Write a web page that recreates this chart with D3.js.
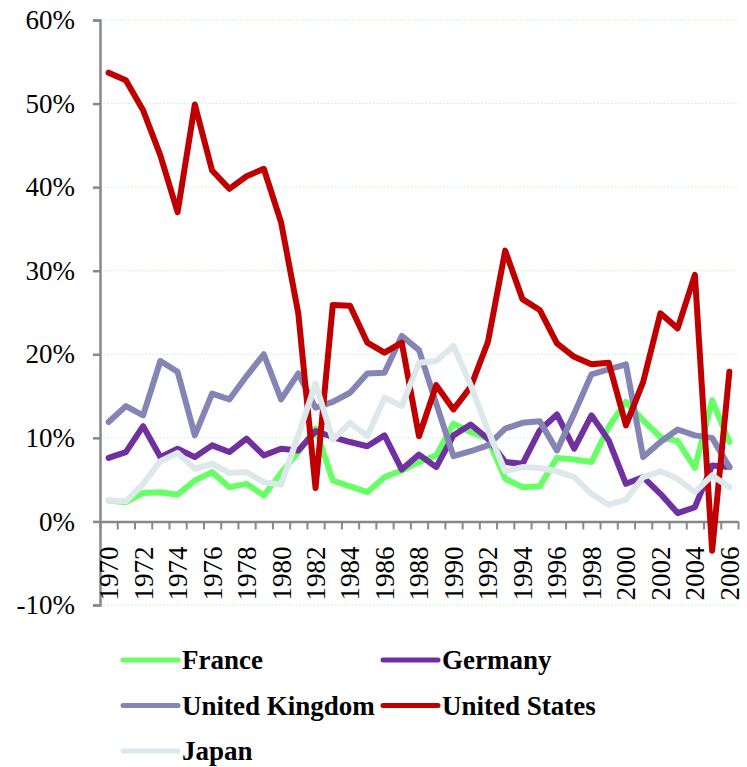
<!DOCTYPE html>
<html>
<head>
<meta charset="utf-8">
<script src="https://cdn.jsdelivr.net/npm/d3@7"></script>
<style>
  body { margin: 0; background: #fff; }
  svg { display: block; }
  svg text { font-family: "Liberation Serif", "DejaVu Serif", serif; }
</style>
</head>
<body>
<svg id="chart"></svg>
<script>
// data (percent)
var years = d3.range(1970, 2007)
var seriesNames = ["France", "Germany", "United Kingdom", "United States", "Japan"]
var france = [2.5, 2.3, 3.4, 3.5, 3.2, 4.9, 5.9, 4.1, 4.5, 3.1, 5.8, 8.3, 11.1, 4.9, 4.2, 3.5, 5.3, 6.1, 7.1, 7.9, 11.7, 10.7, 9.9, 5.1, 4.1, 4.2, 7.6, 7.4, 7.1, 11.3, 14.3, 12.1, 10.1, 9.6, 6.4, 14.5, 9.5]
var germany = [7.6, 8.3, 11.4, 7.7, 8.7, 7.7, 9.1, 8.3, 9.9, 7.9, 8.7, 8.5, 10.8, 10.1, 9.5, 9.0, 10.3, 6.2, 8.0, 6.5, 10.3, 11.6, 9.9, 7.1, 6.9, 10.9, 12.8, 8.7, 12.7, 9.7, 4.5, 5.3, 3.3, 1.0, 1.7, 6.7, 6.5]
var unitedKingdom = [11.9, 13.8, 12.7, 19.2, 17.9, 10.3, 15.3, 14.6, 17.4, 20.0, 14.6, 17.7, 13.6, 14.3, 15.4, 17.7, 17.8, 22.2, 20.5, 14.1, 7.8, 8.4, 9.1, 11.1, 11.8, 12.0, 8.5, 12.9, 17.6, 18.2, 18.8, 7.7, 9.5, 11.0, 10.3, 10.0, 6.5]
var unitedStates = [53.7, 52.8, 49.2, 43.8, 37.0, 49.9, 42.0, 39.8, 41.3, 42.2, 35.8, 24.9, 4.0, 25.9, 25.8, 21.4, 20.2, 21.4, 10.2, 16.3, 13.4, 16.1, 21.5, 32.4, 26.6, 25.3, 21.3, 19.7, 18.8, 19.0, 11.5, 16.7, 24.9, 23.1, 29.5, -3.5, 17.9]
var japan = [2.5, 2.4, 4.5, 7.2, 8.2, 6.3, 6.9, 5.8, 5.9, 4.7, 4.4, 10.3, 16.5, 9.8, 11.8, 10.2, 14.8, 13.8, 19.0, 19.2, 21.0, 16.3, 10.9, 6.0, 6.5, 6.4, 6.0, 5.3, 3.3, 2.0, 2.6, 5.3, 6.0, 5.1, 3.5, 5.5, 4.1]
var yTicks = [-10, 0, 10, 20, 30, 40, 50, 60]
var colors = ["#66ff66", "#7030a0", "#8585b5", "#c00000", "#dce8ea"]

var width = 747
    height = 767
    margin = {top: 20, right: 9, bottom: 162, left: 100}

var svg = d3.select("#chart")
    .attr("width", width)
    .attr("height", height)

var allSeries = [france, germany, unitedKingdom, unitedStates, japan]

// category boundaries and centers
var xb = d3.scaleLinear()
    .domain([years[0] - 0.5, years[years.length - 1] + 0.5])
    .range([margin.left, width - margin.right])

var y = d3.scaleLinear()
    .domain([-10, 60])
    .range([height - margin.bottom, margin.top])

// gridlines
svg.append("g")
  .selectAll("line")
  .data(yTicks.filter(function(d){ return d != 0 }))
  .enter().append("line")
    .attr("x1", margin.left)
    .attr("x2", width - margin.right)
    .attr("y1", function(d){ return y(d) })
    .attr("y2", function(d){ return y(d) })
    .attr("stroke", "#bff5bf")
    .attr("stroke-width", 1)
    .attr("stroke-dasharray", "1.5,2")

// y axis
var yAxis = svg.append("g")
    .attr("transform", "translate(" + margin.left + ",0)")
    .call(d3.axisLeft(y).tickValues(yTicks).tickSize(7).tickPadding(18)
      .tickFormat(function(d){ return d + "%" }))
yAxis.attr("font-family", null).attr("font-size", null)
yAxis.select(".domain").attr("stroke", "#888").attr("stroke-width", 2.5)
yAxis.selectAll(".tick line").attr("stroke", "#888").attr("stroke-width", 2.5)
yAxis.selectAll("text")
    .style("font-size", "27px")
    .attr("fill", "#000")

// x axis at 0%, ticks at category boundaries
var xAxis = svg.append("g")
    .attr("transform", "translate(0," + y(0) + ")")
    .call(d3.axisBottom(xb)
      .tickValues(d3.range(years[0] - 0.5, years[years.length - 1] + 1, 1))
      .tickSize(8).tickSizeOuter(0).tickFormat(""))
xAxis.select(".domain").attr("stroke", "#888").attr("stroke-width", 2.5)
xAxis.selectAll(".tick line").attr("stroke", "#888").attr("stroke-width", 2)

// year labels every two years, rotated
svg.append("g")
  .selectAll("text")
  .data(years.filter(function(d){ return d % 2 == 0 }))
  .enter().append("text")
    .text(function(d){ return d })
    .attr("transform", function(d){ return "translate(" + xb(d) + "," + (y(0) + 25) + ") rotate(-90)" })
    .attr("text-anchor", "end")
    .attr("dy", "0.35em")
    .style("font-size", "27px")
    .attr("fill", "#000")

// lines
var line = d3.line()
    .x(function(d, i){ return xb(years[i]) })
    .y(function(d){ return y(d) })
    .curve(d3.curveLinear)

svg.append("g")
  .selectAll("path")
  .data(allSeries)
  .enter().append("path")
    .attr("d", line)
    .attr("fill", "none")
    .attr("stroke", function(d, i){ return colors[i] })
    .attr("stroke-width", 6)
    .attr("stroke-linejoin", "round")
    .attr("stroke-linecap", "round")

// legend, two columns
var legend = svg.append("g")
  .selectAll("g")
  .data(seriesNames)
  .enter().append("g")
    .attr("transform", function(d, i){
      return "translate(" + (i % 2 == 0 ? 123 : 383) + "," + (660 + Math.floor(i / 2) * 45.5) + ")" })

legend.append("line")
    .attr("x1", 0).attr("x2", 55)
    .attr("stroke", function(d, i){ return colors[i] })
    .attr("stroke-width", 5)
    .attr("stroke-linecap", "round")

legend.append("text")
    .attr("x", 59)
    .attr("dy", "0.35em")
    .text(function(d){ return d })
    .style("font-weight", "bold")
    .style("font-size", "27px")
    .attr("fill", "#000")
</script>
</body>
</html>
